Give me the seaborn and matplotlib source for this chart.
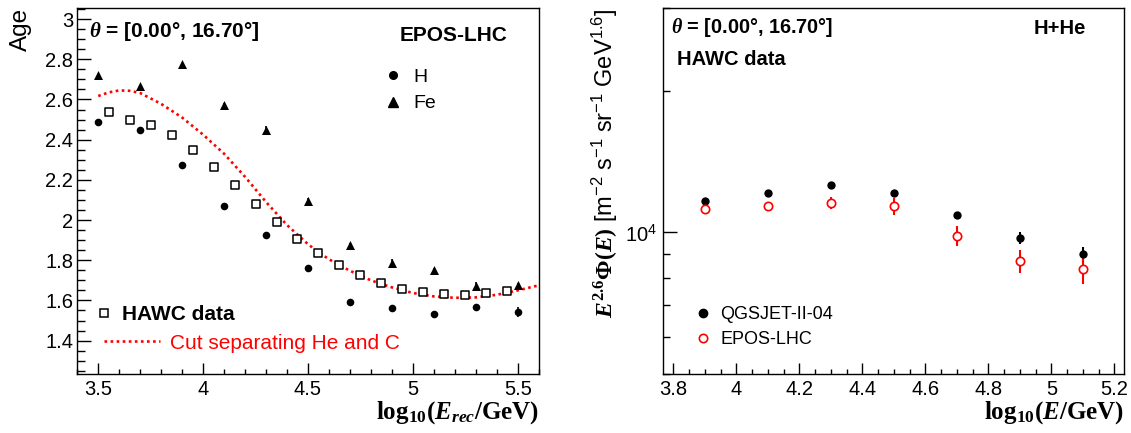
import matplotlib
matplotlib.use('Agg')
import matplotlib.pyplot as plt
import matplotlib.ticker as mticker
from matplotlib.lines import Line2D
import seaborn as sns

# ---------------- left panel: shower age vs reconstructed energy ----------------
sim_log_e = [3.5, 3.7, 3.9, 4.1, 4.3, 4.5, 4.7, 4.9, 5.1, 5.3, 5.5]
age_h = [2.488, 2.449, 2.276, 2.072, 1.928, 1.761, 1.593, 1.564, 1.533, 1.569, 1.543]
age_h_err = [0.005, 0.005, 0.005, 0.005, 0.005, 0.005, 0.008, 0.008, 0.01, 0.015, 0.025]
age_fe = [2.721, 2.667, 2.775, 2.570, 2.449, 2.097, 1.875, 1.785, 1.749, 1.670, 1.675]
age_fe_err = [0.005, 0.005, 0.005, 0.01, 0.018, 0.012, 0.01, 0.02, 0.012, 0.02, 0.012]

data_log_e = [3.55, 3.65, 3.75, 3.85, 3.95, 4.05, 4.15, 4.25, 4.35, 4.45,
              4.55, 4.65, 4.75, 4.85, 4.95, 5.05, 5.15, 5.25, 5.35, 5.45]
age_data = [2.537, 2.498, 2.473, 2.423, 2.348, 2.263, 2.175, 2.080, 1.989, 1.907,
            1.834, 1.774, 1.725, 1.687, 1.659, 1.641, 1.631, 1.629, 1.638, 1.649]

cut_log_e = [3.5, 3.55, 3.6, 3.65, 3.7, 3.8, 3.9, 4.0, 4.1, 4.2, 4.3, 4.4, 4.5,
             4.55, 4.6, 4.65, 4.7, 4.75, 4.8, 4.85, 4.9, 5.0, 5.1, 5.2, 5.3, 5.4, 5.5, 5.6]
cut_age = [2.617, 2.635, 2.645, 2.643, 2.632, 2.578, 2.51, 2.425, 2.33, 2.215, 2.09, 1.975, 1.88,
           1.84, 1.805, 1.775, 1.748, 1.723, 1.70, 1.682, 1.665, 1.637, 1.62, 1.613, 1.615, 1.628, 1.65, 1.675]

# ---------------- right panel: H+He flux ----------------
flux_log_e = [3.9, 4.1, 4.3, 4.5, 4.7, 4.9, 5.1]
flux_qgsjet = [11640, 12140, 12600, 12140, 10870, 9725, 8990]
flux_qgsjet_err = [60, 60, 80, 100, 170, 290, 330]
flux_epos = [11210, 11380, 11560, 11360, 9835, 8675, 8340]
flux_epos_err = [120, 100, 350, 450, 490, 490, 560]

sns.set_theme(style='ticks')
plt.rcParams.update({
    'font.family': ['Liberation Sans', 'DejaVu Sans'],
    'mathtext.fontset': 'custom',
    'mathtext.rm': 'Liberation Serif:bold',
    'mathtext.bf': 'Liberation Serif:bold',
    'mathtext.it': 'Liberation Serif:italic:bold',
    'mathtext.sf': 'Liberation Sans',
    'axes.edgecolor': 'black',
    'axes.labelcolor': 'black',
    'axes.linewidth': 1.0,
    'xtick.color': 'black',
    'ytick.color': 'black',
    'xtick.labelcolor': 'black',
    'ytick.labelcolor': 'black',
    'text.color': 'black',
})

fig = plt.figure(figsize=(11.31, 4.33), dpi=100)
ax1 = fig.add_axes([0.0683, 0.1363, 0.408, 0.8452])
ax2 = fig.add_axes([0.586, 0.1363, 0.4076, 0.8452])

fmt_g = mticker.FuncFormatter(lambda v, p: '{:g}'.format(round(v, 3)))

# ---- left ----
ax1.errorbar(sim_log_e, age_h, yerr=age_h_err, fmt='none', ecolor='black', elinewidth=1.2)
ax1.errorbar(sim_log_e, age_fe, yerr=age_fe_err, fmt='none', ecolor='black', elinewidth=1.2)
sns.scatterplot(x=sim_log_e, y=age_h, ax=ax1, marker='o', color='black', s=30, linewidth=0, zorder=3)
sns.scatterplot(x=sim_log_e, y=age_fe, ax=ax1, marker='^', color='black', s=42, linewidth=0, zorder=3)
sns.lineplot(x=cut_log_e, y=cut_age, ax=ax1, color='red', linewidth=1.9,
             linestyle=(0, (1, 1.3)), zorder=2)
sns.scatterplot(x=data_log_e, y=age_data, ax=ax1, marker='s', color='white',
                edgecolor='black', s=32, linewidth=1.1, zorder=4)

ax1.set_xlim(3.4, 5.6)
ax1.set_ylim(1.234, 3.055)
ax1.xaxis.set_major_locator(mticker.MultipleLocator(0.5))
ax1.xaxis.set_minor_locator(mticker.MultipleLocator(0.1))
ax1.yaxis.set_major_locator(mticker.MultipleLocator(0.2))
ax1.yaxis.set_minor_locator(mticker.MultipleLocator(0.05))
ax1.xaxis.set_major_formatter(fmt_g)
ax1.yaxis.set_major_formatter(fmt_g)
ax1.tick_params(axis='y', which='major', direction='in', length=10, width=1, labelsize=14.5, pad=3)
ax1.tick_params(axis='y', which='minor', direction='in', length=5.5, width=1)
ax1.tick_params(axis='x', which='major', direction='in', length=7.7, width=1, labelsize=14.5, pad=4)
ax1.tick_params(axis='x', which='minor', direction='in', length=3.4, width=1)

ax1.set_ylabel('Age', fontsize=17.5, loc='top')
ax1.yaxis.set_label_coords(-0.0975, 1.0)
ax1.set_xlabel(r'$\mathrm{log}_{10}(E_{rec}/\mathrm{GeV})$', fontsize=18, loc='right')
ax1.xaxis.set_label_coords(1.0, -0.068)

ax1.text(0.0254, 0.935, r'$\theta$ = [0.00°, 16.70°]', transform=ax1.transAxes,
         fontsize=15, fontweight='bold', ha='left', va='center')
ax1.text(0.699, 0.926, 'EPOS-LHC', transform=ax1.transAxes,
         fontsize=15, fontweight='bold', ha='left', va='center')

leg1 = ax1.legend(handles=[Line2D([], [], ls='none', marker='o', color='black', ms=5.5),
                           Line2D([], [], ls='none', marker='^', color='black', ms=6.5)],
                  labels=['H', 'Fe'], loc='center left', bbox_to_anchor=(0.664, 0.7746),
                  frameon=False, fontsize=14, handlelength=1.0, handletextpad=0.55,
                  labelspacing=0.44, borderpad=0, borderaxespad=0)
ax1.add_artist(leg1)
leg2 = ax1.legend(handles=[Line2D([], [], ls='none', marker='s', mfc='white', mec='black',
                                  mew=1.1, ms=5.7)],
                  labels=['HAWC data'], loc='center left', bbox_to_anchor=(0.0449, 0.163),
                  frameon=False, fontsize=15, handlelength=0.6, handletextpad=0.57,
                  borderpad=0, borderaxespad=0)
for t in leg2.get_texts():
    t.set_fontweight('bold')
ax1.add_artist(leg2)
leg3 = ax1.legend(handles=[Line2D([], [], color='red', lw=1.9, ls=(0, (1, 1.3)))],
                  labels=['Cut separating He and C'], loc='center left',
                  bbox_to_anchor=(0.0574, 0.0839), frameon=False, fontsize=15,
                  handlelength=2.68, handletextpad=0.5, borderpad=0, borderaxespad=0)
for t in leg3.get_texts():
    t.set_color('red')

# ---- right ----
ax2.set_yscale('log')
ax2.errorbar(flux_log_e, flux_qgsjet, yerr=flux_qgsjet_err, fmt='none', ecolor='black', elinewidth=1.5)
ax2.errorbar(flux_log_e, flux_epos, yerr=flux_epos_err, fmt='none', ecolor='red', elinewidth=1.5)
sns.scatterplot(x=flux_log_e, y=flux_qgsjet, ax=ax2, marker='o', color='black', s=36,
                linewidth=0, zorder=3)
sns.scatterplot(x=flux_log_e, y=flux_epos, ax=ax2, marker='o', color='white',
                edgecolor='red', s=36, linewidth=1.2, zorder=3)

ax2.set_xlim(3.766, 5.23)
ax2.set_ylim(5000, 30000)
ax2.xaxis.set_major_locator(mticker.MultipleLocator(0.2))
ax2.xaxis.set_minor_locator(mticker.MultipleLocator(0.05))
ax2.xaxis.set_major_formatter(fmt_g)
ax2.yaxis.set_major_locator(mticker.LogLocator(base=10))
ax2.yaxis.set_minor_locator(mticker.LogLocator(base=10, subs=range(2, 10)))
ax2.yaxis.set_minor_formatter(mticker.NullFormatter())
ax2.tick_params(axis='y', which='major', direction='in', length=10, width=1, labelsize=14.5, pad=4.3)
ax2.tick_params(axis='y', which='minor', direction='in', length=4.8, width=1)
ax2.tick_params(axis='x', which='major', direction='in', length=7.7, width=1, labelsize=14.5, pad=4)
ax2.tick_params(axis='x', which='minor', direction='in', length=3.4, width=1)

ax2.set_ylabel(r'$E^{2.6}\Phi(E)$ $\mathsf{[m^{-2}\ s^{-1}\ sr^{-1}\ GeV^{1.6}]}$',
               fontsize=17, loc='top')
ax2.yaxis.set_label_coords(-0.0926, 1.0)
ax2.set_xlabel(r'$\mathrm{log}_{10}(E/\mathrm{GeV})$', fontsize=18, loc='right')
ax2.xaxis.set_label_coords(1.0, -0.068)

ax2.text(0.0171, 0.948, r'$\theta$ = [0.00°, 16.70°]', transform=ax2.transAxes,
         fontsize=14.3, fontweight='bold', ha='left', va='center')
ax2.text(0.805, 0.9445, 'H+He', transform=ax2.transAxes,
         fontsize=14.5, fontweight='bold', ha='left', va='center')
ax2.text(0.031, 0.86, 'HAWC data', transform=ax2.transAxes,
         fontsize=14.5, fontweight='bold', ha='left', va='center')

ax2.legend(handles=[Line2D([], [], ls='none', marker='o', color='black', ms=6),
                    Line2D([], [], ls='none', marker='o', mfc='white', mec='red', mew=1.2, ms=6)],
           labels=['QGSJET-II-04', 'EPOS-LHC'], loc='center left', bbox_to_anchor=(0.0752, 0.128),
           frameon=False, fontsize=13, handlelength=0.6, handletextpad=0.65,
           labelspacing=0.45, borderpad=0, borderaxespad=0)

for ax in (ax1, ax2):
    for sp in ax.spines.values():
        sp.set_visible(True)
        sp.set_color('black')
        sp.set_linewidth(1.0)

fig.savefig('out.png', dpi=100)
